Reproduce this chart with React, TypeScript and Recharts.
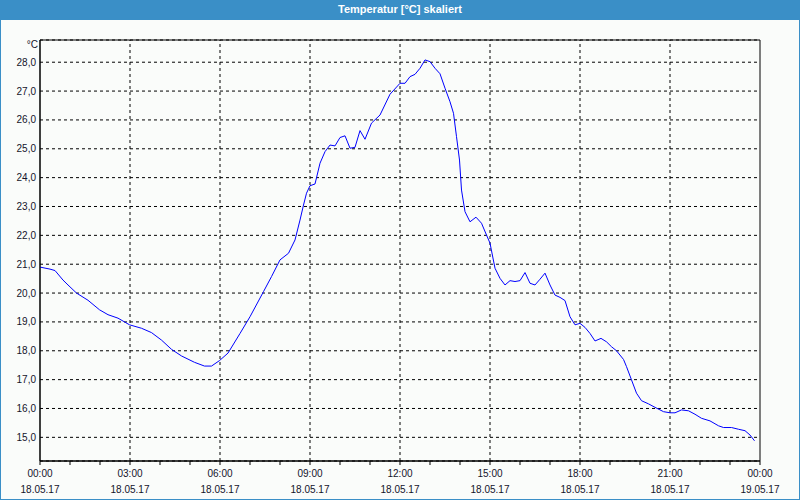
import React from 'react';
import { LineChart, Line, XAxis, YAxis, CartesianGrid, ReferenceLine, ReferenceArea } from 'recharts';

// minutes since 18.05.17 00:00
const minutes = [
  0, 20, 30, 46, 56, 73, 96, 119, 136, 156, 179, 203, 223, 243, 263, 283, 309, 329, 343, 359,
  376, 400, 420, 447, 463, 480, 497, 510, 520, 527, 533, 540, 550, 560, 570, 580, 590, 600, 610, 620,
  630, 640, 650, 663, 680, 700, 720, 730, 740, 750, 760, 770, 780, 790, 800, 810, 820, 827, 833, 839,
  843, 850, 860, 872, 883, 893, 900, 910, 920, 930, 940, 950, 960, 970, 980, 990, 1000, 1010, 1020, 1030,
  1040, 1050, 1060, 1070, 1080, 1090, 1100, 1110, 1122, 1133, 1143, 1153, 1167, 1173, 1183, 1193, 1203, 1217, 1230, 1247,
  1260, 1270, 1283, 1297, 1310, 1323, 1340, 1357, 1367, 1383, 1397, 1410, 1420, 1429,
];

const temps = [
  20.9, 20.83, 20.78, 20.45, 20.28, 20.0, 19.75, 19.42, 19.25, 19.13, 18.9, 18.78, 18.63, 18.37, 18.05, 17.82, 17.6, 17.47, 17.47, 17.66,
  17.92, 18.6, 19.18, 20.05, 20.57, 21.15, 21.38, 21.84, 22.53, 23.05, 23.46, 23.72, 23.78, 24.5, 24.9, 25.13, 25.1, 25.39, 25.45, 25.02,
  25.05, 25.63, 25.33, 25.89, 26.17, 26.89, 27.27, 27.27, 27.5, 27.58, 27.79, 28.08, 28.02, 27.79, 27.6, 27.1, 26.63, 26.23, 25.42, 24.61,
  23.57, 22.82, 22.47, 22.63, 22.42, 22.01, 21.73, 20.86, 20.51, 20.28, 20.43, 20.4, 20.43, 20.71, 20.34, 20.28, 20.48, 20.69, 20.28, 19.93,
  19.85, 19.74, 19.18, 18.9, 18.95, 18.81, 18.6, 18.34, 18.43, 18.31, 18.14, 18.0, 17.7, 17.45, 16.99, 16.53, 16.27, 16.16, 16.04, 15.89,
  15.85, 15.85, 15.95, 15.92, 15.8, 15.66, 15.57, 15.4, 15.34, 15.34, 15.28, 15.23, 15.08, 14.88,
];

const hourTicks = [0, 60, 120, 180, 240, 300, 360, 420, 480, 540, 600, 660, 720, 780, 840, 900, 960, 1020, 1080, 1140, 1200, 1260, 1320, 1380, 1440];
const majorTicks = [180, 360, 540, 720, 900, 1080, 1260];
const timeLabels = ['00:00', '03:00', '06:00', '09:00', '12:00', '15:00', '18:00', '21:00', '00:00'];
const dateLabels = ['18.05.17', '18.05.17', '18.05.17', '18.05.17', '18.05.17', '18.05.17', '18.05.17', '18.05.17', '19.05.17'];
const tempTicks = [15, 16, 17, 18, 19, 20, 21, 22, 23, 24, 25, 26, 27, 28];

const data = minutes.map((m, i) => ({ t: m, temp: temps[i] }));

const Y_MIN = 14.18;
const Y_MAX = 28.77;
const FONT = '"Liberation Sans", Arial, sans-serif';
const TEXT = '#14142a';
const BLUE = '#3a8fc7';

const TimeTick = (props: any) => {
  const { x, y, payload } = props;
  if (payload.value % 180 !== 0) return null;
  const idx = payload.value / 180;
  return (
    <g>
      <text x={x} y={y} dy={10} textAnchor="middle" fontSize={10} fontFamily={FONT} fill={TEXT}>
        {timeLabels[idx]}
      </text>
      <text x={x} y={y} dy={26} textAnchor="middle" fontSize={10} fontFamily={FONT} fill={TEXT}>
        {dateLabels[idx]}
      </text>
    </g>
  );
};

export default function App() {
  return (
    <div style={{ position: 'absolute', left: 0, top: 0, width: 800, height: 500, background: '#fafcfa' }}>
      <LineChart width={800} height={500} data={data} margin={{ top: 40, right: 40, bottom: 0, left: 0 }}>
        <CartesianGrid vertical={false} stroke="#000" strokeDasharray="3 3" />
        {majorTicks.map((m) => (
          <ReferenceLine key={m} x={m} stroke="#000" strokeDasharray="3 3" />
        ))}
        <ReferenceArea x1={0} x2={1440} y1={Y_MIN} y2={Y_MAX} fill="none" stroke="#000" strokeWidth={1} />
        <XAxis
          dataKey="t"
          type="number"
          domain={[0, 1440]}
          ticks={hourTicks}
          interval={0}
          height={39}
          tickSize={4}
          tickMargin={2}
          axisLine={{ stroke: '#000' }}
          tickLine={{ stroke: '#000' }}
          tick={<TimeTick />}
        />
        <YAxis
          type="number"
          domain={[Y_MIN, Y_MAX]}
          ticks={tempTicks}
          interval={0}
          width={40}
          tickSize={0}
          tickMargin={4}
          tickLine={false}
          axisLine={{ stroke: '#000' }}
          tick={{ fontSize: 10, fontFamily: FONT, fill: TEXT }}
          tickFormatter={(v: number) => v.toFixed(1).replace('.', ',')}
        />
        <Line type="linear" dataKey="temp" stroke="#0000ff" strokeWidth={1} dot={false} isAnimationActive={false} />
      </LineChart>
      <div
        style={{
          position: 'absolute', left: 22, top: 39, width: 16, textAlign: 'right',
          fontSize: 10, fontFamily: FONT, color: TEXT,
        }}
      >
        °C
      </div>
      <div
        style={{
          position: 'absolute', left: 0, top: 0, width: 800, height: 20, background: BLUE,
          color: '#fff', fontFamily: FONT, fontSize: 11, fontWeight: 'bold', textAlign: 'center', lineHeight: '19px',
        }}
      >
        Temperatur [°C] skaliert
      </div>
      <div
        style={{
          position: 'absolute', left: 0, top: 0, width: 800, height: 500, boxSizing: 'border-box',
          border: `1px solid ${BLUE}`, pointerEvents: 'none',
        }}
      />
    </div>
  );
}
